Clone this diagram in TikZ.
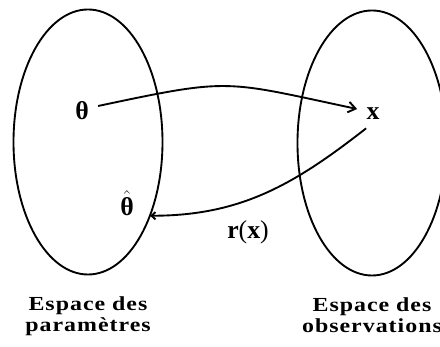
\documentclass[tikz,border=0pt]{standalone}
\usepackage{amsmath}
\usepackage{fontspec}
\setmainfont{Liberation Serif}
\newfontfamily\spacedfont{Liberation Serif}[FakeStretch=1.2, LetterSpace=5]
\usetikzlibrary{arrows.meta, positioning, shapes.geometric}

\begin{document}
\begin{tikzpicture}[x=0.03cm, y=0.03cm,
  espace/.style={draw, ellipse, line width=1.6pt, inner sep=0pt, minimum width=4.47cm, minimum height=7.95cm},
  legende/.style={align=center, inner sep=0pt, font=\spacedfont\bfseries\fontsize{17}{18}\selectfont},
  symb/.style={inner sep=1pt, font=\bfseries\fontsize{22}{26}\selectfont},
  trait/.style={line width=1.6pt},
  node distance=0.64cm
]
  \useasboundingbox (0,0) rectangle (440,347);

  \node[espace] (params) at (88,205) {};
  \node[espace] (obs) at (372,204) {};
  \node[legende, below=of params] (lparams) {Espace des\\paramètres};
  \node[legende, below=of obs] (lobs) {Espace des\\observations};

  \node[symb] (theta) at (82,236) {θ};
  \node[symb] (x) at (373,233) {x};
  \node[symb] (thetahat) at (127,144) {$\hat{\text{\bfseries θ}}$};
  \node[symb] (rx) at (248,115) {r\textmd{(}x\textmd{)}};

  \draw[trait, -{Straight Barb[length=2.2mm, width=3.2mm]}]
    ([shift={(8,5)}]theta.east) to[out=12, in=168, looseness=1.35] ([shift={(-8,5)}]x.west);
  \draw[trait, -{Straight Barb[length=1.2mm, width=2.2mm]}]
    ([shift={(1,-7)}]x.south west) to[out=218, in=0] ([shift={(15,1)}]thetahat.south east);
\end{tikzpicture}
\end{document}
